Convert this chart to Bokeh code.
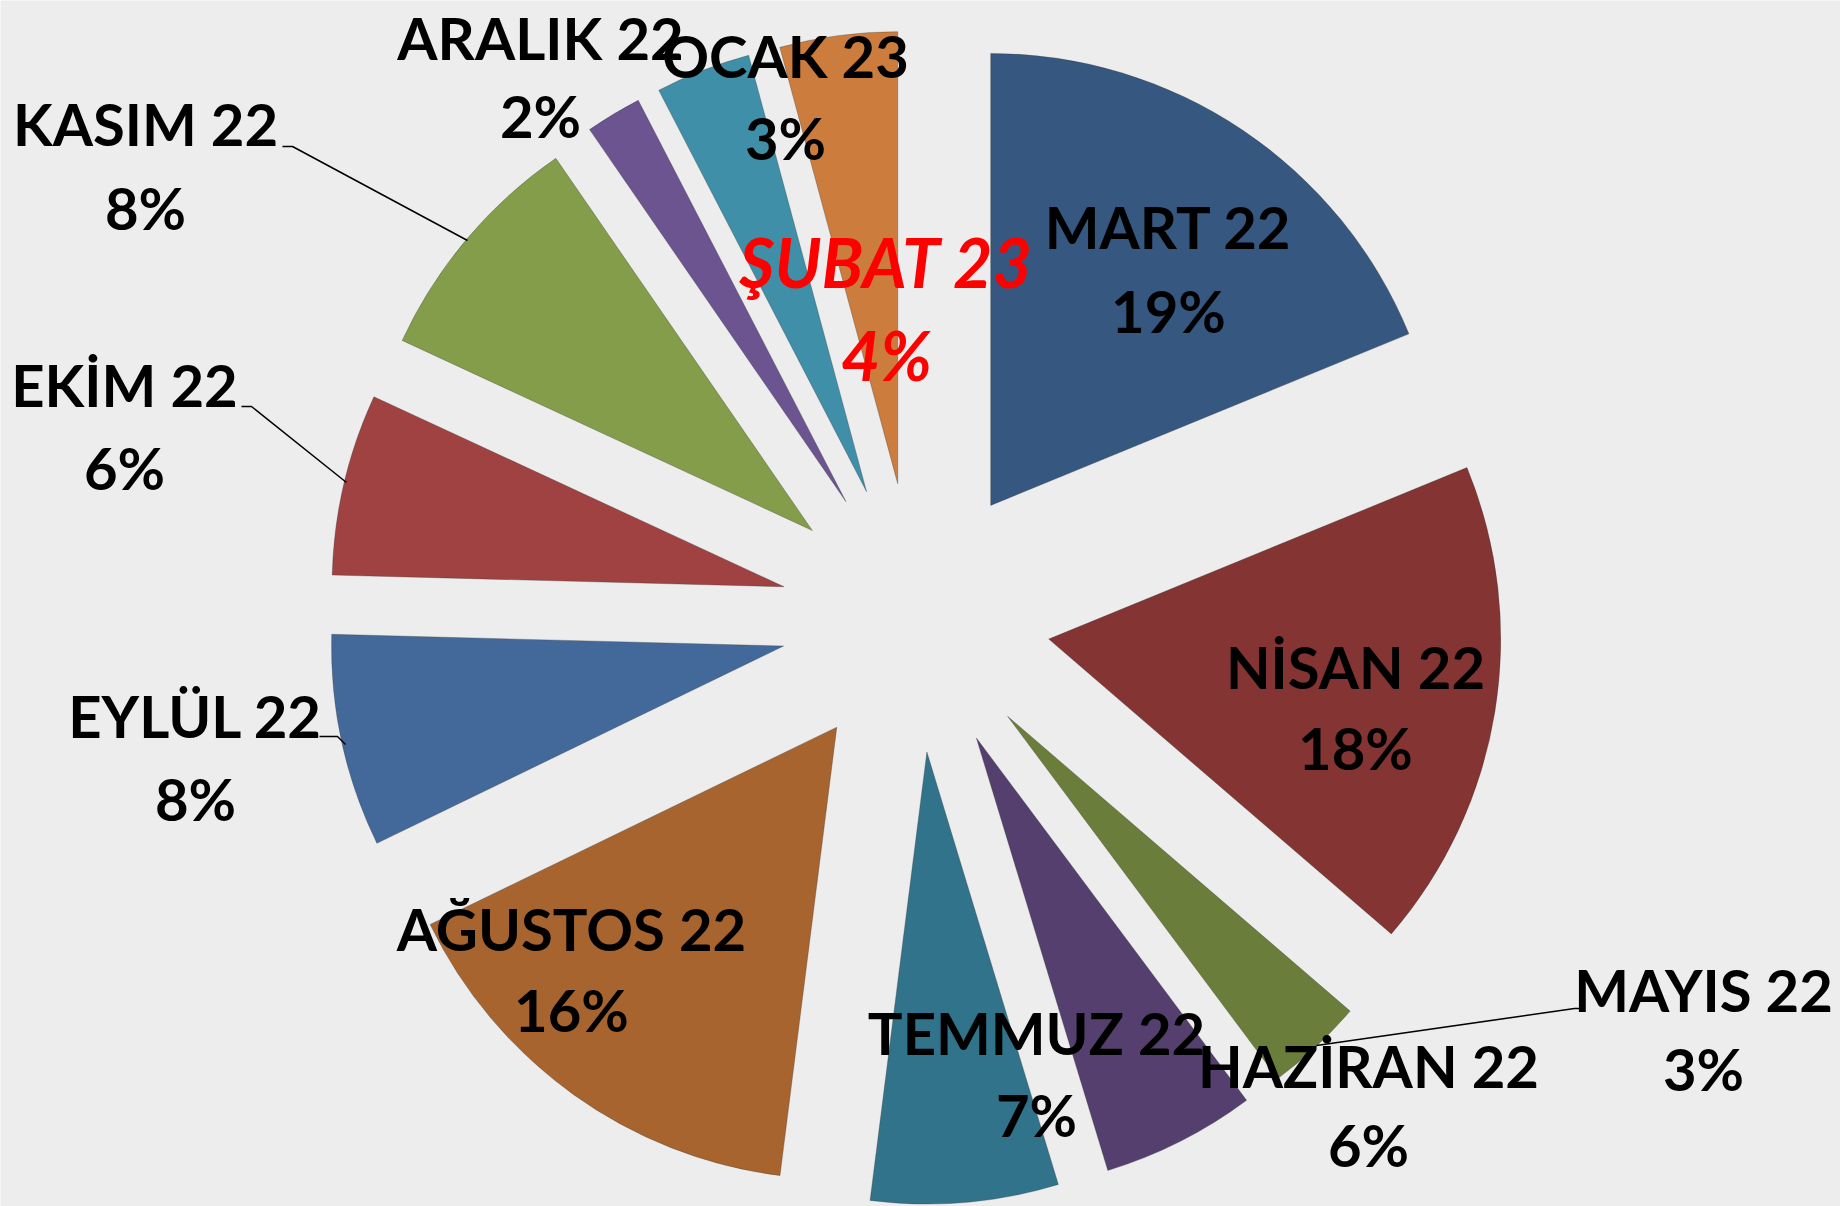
import math
from bokeh.plotting import figure
from bokeh.models import Range1d, ColumnDataSource
from bokeh.core.properties import value
from bokeh.embed import file_html
from bokeh.resources import INLINE

# ---- data (shares in %; labels show the rounded value) ----
months = ["MART 22", "NİSAN 22", "MAYIS 22", "HAZİRAN 22", "TEMMUZ 22", "AĞUSTOS 22",
          "EYLÜL 22", "EKİM 22", "KASIM 22", "ARALIK 22", "OCAK 23", "ŞUBAT 23"]
shares = [18.8, 17.5, 3.49, 5.5, 6.7, 15.8, 7.6, 6.49, 8.49, 2.0, 3.4, 4.2]
pct_labels = [f"{int(v + 0.5)}%" for v in shares]
colors = ["#36577f", "#843433", "#6b7d3a", "#543f6e", "#30738a", "#a8642e",
          "#43699b", "#a04242", "#839d4a", "#6b5490", "#3f8fa8", "#cc7c3c"]

# ---- layout (pixel coordinates, y measured from top of page) ----
W, H = 1840, 1206
CX, CY = 915, 617
EXPLODE = 135
RADIUS = 452
TEXT_DY = 24   # rendering correction for the alphabetic baseline
# label anchor: x centre, baseline of name line, baseline of percent line
label_pos = {
    "MART 22": (1168, 250, 334),
    "NİSAN 22": (1355, 690, 771),
    "MAYIS 22": (1703, 1013, 1092),
    "HAZİRAN 22": (1368, 1089, 1168),
    "TEMMUZ 22": (1036, 1056, 1138),
    "AĞUSTOS 22": (571, 952, 1033),
    "EYLÜL 22": (195, 739, 822),
    "EKİM 22": (124, 408, 491),
    "KASIM 22": (145, 147, 231),
    "ARALIK 22": (540, 61, 139),
    "OCAK 23": (785, 79, 161),
    "ŞUBAT 23": (886, 285, 378),
}
leaders = {
    "KASIM 22": [(282, 146), (292, 146), (467, 240)],
    "EKİM 22": [(241, 406), (251, 406), (346, 482)],
    "EYLÜL 22": [(319, 736), (337, 736), (345, 744)],
    "MAYIS 22": [(1582, 1008), (1574, 1008), (1316, 1045)],
}


def fy(yp):
    return H - yp


p = figure(width=W, height=H, output_backend="svg", toolbar_location=None,
           x_range=Range1d(0, W), y_range=Range1d(0, H), min_border=0)
p.axis.visible = False
p.grid.visible = False
p.outline_line_color = None
p.background_fill_color = "#ededed"
p.border_fill_color = "#ededed"

total = sum(shares)
xs, ys, sa, ea = [], [], [], []
cum = 0.0
for v in shares:
    t0 = cum / total * 2 * math.pi
    cum += v
    t1 = cum / total * 2 * math.pi
    mid = (t0 + t1) / 2
    xs.append(CX + EXPLODE * math.sin(mid))
    ys.append(fy(CY) + EXPLODE * math.cos(mid))
    sa.append(math.pi / 2 - t0)
    ea.append(math.pi / 2 - t1)

src = ColumnDataSource(dict(x=xs, y=ys, sa=sa, ea=ea, color=colors))
p.wedge(x="x", y="y", radius=RADIUS, start_angle="sa", end_angle="ea",
        direction="clock", fill_color="color", line_color="#333333",
        line_alpha=0.3, line_width=1, source=src)

for name, pts in leaders.items():
    p.line([a for a, b in pts], [fy(b) for a, b in pts], line_color="black", line_width=1.5)

for name, lab in zip(months, pct_labels):
    x, b1, b2 = label_pos[name]
    special = name == "ŞUBAT 23"
    style = "bold italic" if special else "bold"
    col = "#ff0000" if special else "black"
    size = "68px" if special else "58px"
    p.text(x=[x, x], y=[fy(b1 - TEXT_DY), fy(b2 - TEXT_DY)], text=[name, lab],
           text_font=value("Lato"), text_font_style=style, text_font_size=size,
           text_color=col, text_align="center", text_baseline="alphabetic")

open("out.html", "w").write(file_html(p, INLINE))
